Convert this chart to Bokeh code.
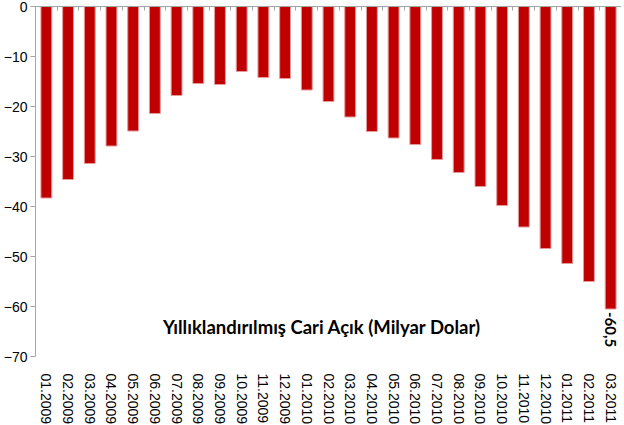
import math
from bokeh.plotting import figure
from bokeh.models import Range1d, LinearAxis, FixedTicker, Label
from bokeh.core.properties import value
from bokeh.embed import file_html
from bokeh.resources import INLINE

months = ["01.2009", "02.2009", "03.2009", "04.2009", "05.2009", "06.2009",
          "07.2009", "08.2009", "09.2009", "10.2009", "11.2009", "12.2009",
          "01.2010", "02.2010", "03.2010", "04.2010", "05.2010", "06.2010",
          "07.2010", "08.2010", "09.2010", "10.2010", "11.2010", "12.2010",
          "01.2011", "02.2011", "03.2011"]
deficit = [-38.3, -34.6, -31.4, -27.9, -24.9, -21.4, -17.8, -15.4, -15.6,
           -13.0, -14.2, -14.4, -16.7, -19.0, -22.1, -25.0, -26.3, -27.6,
           -30.6, -33.2, -36.0, -39.8, -44.1, -48.4, -51.4, -55.0, -60.5]
y_ticks = [0, -10, -20, -30, -40, -50, -60, -70]
title_text = "Yıllıklandırılmış Cari Açık (Milyar Dolar)"

AXIS_GRAY = "#a6a6a6"
TICK_FONT = "Liberation Sans"

n = len(months)
centers = [i + 0.5 for i in range(n)]   # category centres on a 0..n scale
edges = list(range(n + 1))              # category boundaries

p = figure(x_range=Range1d(0, n),
           y_range=Range1d(min(y_ticks), max(y_ticks)),
           frame_width=586, frame_height=350,
           output_backend="svg", toolbar_location=None,
           min_border_left=0, min_border_right=0,
           min_border_top=6, min_border_bottom=0)
p.outline_line_color = None
p.xgrid.grid_line_color = None
p.ygrid.grid_line_color = None
p.background_fill_color = "white"
p.border_fill_color = "white"

p.vbar(x=centers, top=deficit, width=0.5,
       fill_color="#C00000", line_color="#e39a9a", line_width=1)

# bottom category labels (no line, no ticks)
xa = p.xaxis[0]
xa.ticker = FixedTicker(ticks=centers)
xa.major_label_overrides = {c: m for c, m in zip(centers, months)}
xa.axis_line_color = None
xa.major_tick_line_color = None
xa.minor_tick_line_color = None
xa.major_label_orientation = -math.pi / 2
xa.major_label_standoff = 11
xa.major_label_text_font = TICK_FONT
xa.major_label_text_font_size = "14px"
xa.major_label_text_color = "#000000"

# left value axis
ya = p.yaxis[0]
ya.ticker = FixedTicker(ticks=y_ticks)
ya.axis_line_color = AXIS_GRAY
ya.major_tick_line_color = AXIS_GRAY
ya.major_tick_in = 0
ya.major_tick_out = 5
ya.minor_tick_line_color = None
ya.major_label_standoff = 3
ya.major_label_text_font = TICK_FONT
ya.major_label_text_font_size = "14px"
ya.major_label_text_color = "#000000"

# top zero line with ticks between categories
top = LinearAxis(ticker=FixedTicker(ticks=edges))
top.axis_line_color = AXIS_GRAY
top.major_tick_line_color = AXIS_GRAY
top.major_tick_in = 4
top.major_tick_out = 0
top.minor_tick_line_color = None
top.major_label_text_font_size = "0px"
top.major_label_text_alpha = 0
top.major_label_standoff = 0
p.add_layout(top, "above")

# value label on last bar
last_lbl = f"{deficit[-1]:.1f}".replace(".", ",")
p.text(x=[centers[-1]], y=[deficit[-1]], text=[last_lbl],
       angle=-math.pi / 2, text_align="left", text_baseline="middle",
       y_offset=3, text_font=value("Lato"), text_font_style="bold",
       text_font_size="15px", text_color="#000000")

p.add_layout(Label(x=13.2, y=-64, text=title_text,
                   text_font="Lato", text_font_style="bold",
                   text_font_size="18.5px", text_align="center",
                   text_baseline="middle", text_color="#000000"))

open("out.html", "w").write(file_html(p, INLINE))
